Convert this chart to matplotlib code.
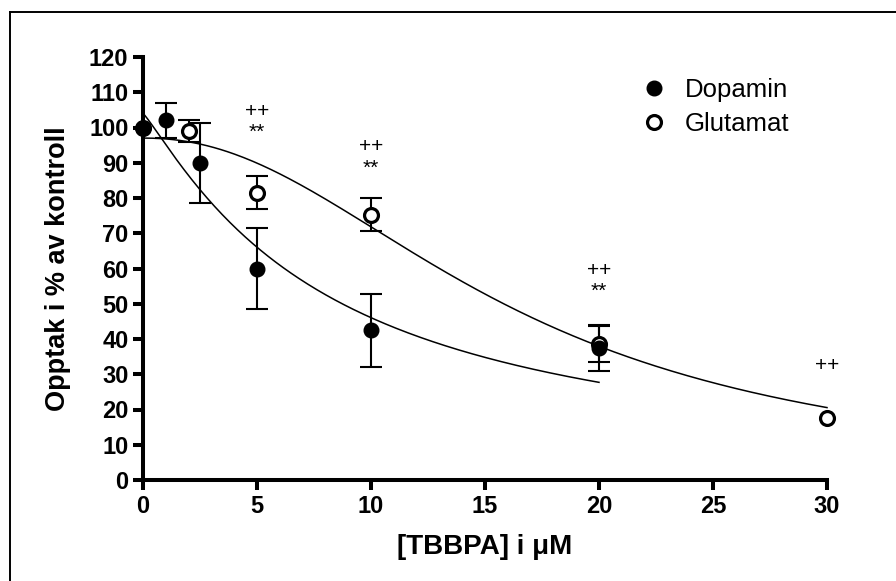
import numpy as np
import matplotlib
matplotlib.use("Agg")
import matplotlib.pyplot as plt
from matplotlib.lines import Line2D

plt.rcParams['font.family'] = ['Liberation Sans', 'DejaVu Sans']

# Concentration of TBBPA (µM) and uptake in % of control (mean ± SEM)
dopamin_x = [0, 1, 2.5, 5, 10, 20]
dopamin_y = [100, 102, 90, 60, 42.5, 37.5]
dopamin_err = [0, 5, 11.4, 11.4, 10.4, 6.5]

glutamat_x = [0, 2, 5, 10, 20, 30]
glutamat_y = [100, 99, 81.5, 75.3, 38.6, 17.6]
glutamat_err = [0, 3, 4.7, 4.7, 5, 0]

# Fitted dose-response parameters: top, IC50 (µM), Hill slope, fit range end
dopamin_fit = dict(top=104.0, ic50=8.16, hill=1.13, xmax=20)
glutamat_fit = dict(top=97.0, ic50=16.28, hill=2.15, xmax=30)

# Significance marks: x position, y position, symbol
sig_x = [5, 5, 10, 10, 20, 20, 30]
sig_y = [104.5, 98.5, 94.5, 88.5, 59.5, 53.5, 32.5]
sig_txt = ['++', '**', '++', '**', '++', '**', '++']

xticks = [0, 5, 10, 15, 20, 25, 30]
yticks = list(range(0, 121, 10))


def dose_response(x, top, ic50, hill, xmax=None):
    return top / (1.0 + (np.asarray(x) / ic50) ** hill)


W, H = 896, 581
fig = plt.figure(figsize=(W / 100, H / 100), dpi=100)
ax = fig.add_axes([143 / W, 1 - 480 / H, (827 - 143) / W, (480 - 57) / H])

# Fitted curves
for fit in (dopamin_fit, glutamat_fit):
    xs = np.linspace(0, fit['xmax'], 300)
    ax.plot(xs, dose_response(xs, **fit), color='black', lw=1.1,
            clip_on=False, zorder=2)

# Error bars (only where an SEM exists)
eb_kw = dict(fmt='none', ecolor='black', elinewidth=1.5, capsize=8,
             capthick=1.5, zorder=3)
for xs, ys, es in ((dopamin_x, dopamin_y, dopamin_err),
                   (glutamat_x, glutamat_y, glutamat_err)):
    sel = [i for i, e in enumerate(es) if e > 0]
    eb = ax.errorbar([xs[i] for i in sel], [ys[i] for i in sel],
                     yerr=[es[i] for i in sel], **eb_kw)
    for art in list(eb.lines[1]) + list(eb.lines[2]):
        art.set_clip_on(False)

# Points
ax.plot(glutamat_x, glutamat_y, 'o', ms=10, mfc='white', mec='black',
        mew=2.3, clip_on=False, zorder=4, label='Glutamat')
ax.plot(dopamin_x, dopamin_y, 'o', ms=10.5, mfc='black', mec='black',
        clip_on=False, zorder=5, label='Dopamin')

for x, y, t in zip(sig_x, sig_y, sig_txt):
    ax.text(x, y, t, ha='center', va='center', fontsize=15, zorder=6)

ax.set_xlim(0, 30)
ax.set_ylim(0, 120)
ax.set_xticks(xticks)
ax.set_yticks(yticks)
for lab in ax.get_xticklabels() + ax.get_yticklabels():
    lab.set_fontweight('bold')
    lab.set_fontsize(17)
ax.tick_params(axis='both', direction='out', length=7.5, width=2.9, pad=3)

for s in ('top', 'right'):
    ax.spines[s].set_visible(False)
for s in ('left', 'bottom'):
    ax.spines[s].set_linewidth(2.9)

ax.set_xlabel('[TBBPA] i μM', fontsize=20, fontweight='bold', labelpad=12)
ax.set_ylabel('Opptak i % av kontroll', fontsize=19.5, fontweight='bold',
              labelpad=13)

handles = [
    Line2D([], [], ls='none', marker='o', ms=10.5, mfc='black', mec='black'),
    Line2D([], [], ls='none', marker='o', ms=10, mfc='white', mec='black',
           mew=2.3),
]
ax.legend(handles, ['Dopamin', 'Glutamat'], loc='upper left',
          bbox_to_anchor=(0.71, 0.975), frameon=False, fontsize=18.5,
          handletextpad=0.6, labelspacing=0.4, handlelength=1.2,
          borderaxespad=0)

# Outer frame lines
fig.add_artist(Line2D([10 / W, 10 / W], [0, 1 - 12 / H], color='black',
                      lw=1.4, transform=fig.transFigure))
fig.add_artist(Line2D([10 / W, 1], [1 - 12 / H, 1 - 12 / H], color='black',
                      lw=1.4, transform=fig.transFigure))

fig.savefig('out.png', dpi=100)
